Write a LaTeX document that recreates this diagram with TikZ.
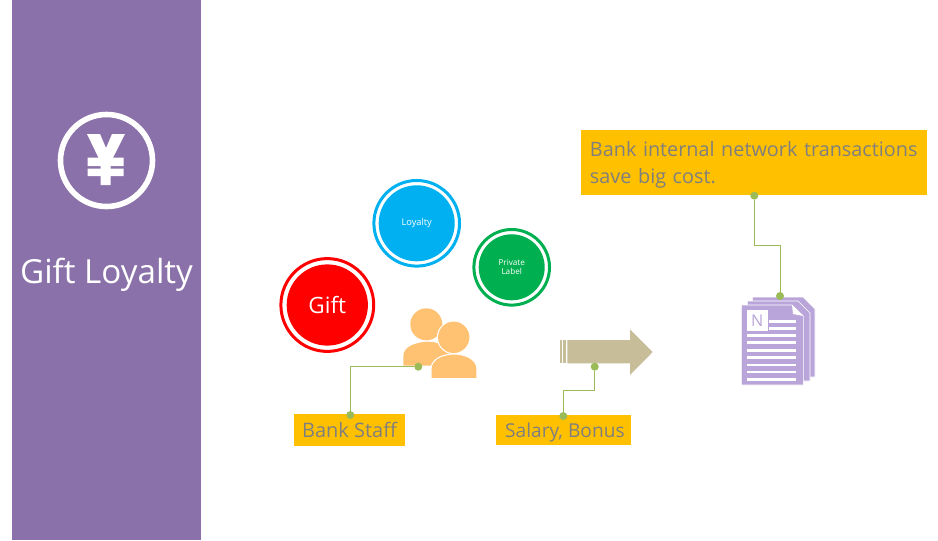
\documentclass[tikz,border=0pt]{standalone}
\usepackage{fontspec}
\setmainfont{Open Sans}
\usetikzlibrary{positioning}
\definecolor{panelpurple}{HTML}{8B71A9}
\definecolor{boxorange}{HTML}{FFC000}
\definecolor{labelgray}{HTML}{7F7F7F}
\definecolor{leafgreen}{HTML}{9BBB59}
\definecolor{skyblue}{HTML}{00B0F0}
\definecolor{darkgreen}{HTML}{00B050}
\definecolor{staffpeach}{HTML}{FFC172}
\definecolor{arrowtan}{HTML}{C7BD98}
\definecolor{docpurple}{HTML}{B9A5D9}
\tikzstyle{disc} = [circle, inner sep=0pt, text=white, align=center]
\tikzstyle{ring} = [circle, inner sep=0pt, fill=none, line width=0.075cm]
\tikzstyle{tagbox} = [rectangle, fill=boxorange, text=labelgray, inner sep=0pt]
\tikzstyle{dot} = [circle, fill=leafgreen, inner sep=0pt, minimum size=0.2cm]
\tikzstyle{leader} = [leafgreen, line width=0.025cm]
\tikzstyle{person} = [fill=staffpeach, draw=white, line width=0.025cm]
\tikzstyle{page} = [fill=docpurple, draw=white, line width=0.015cm]

\begin{document}
\begin{tikzpicture}[x=0.025cm, y=-0.025cm]
	\useasboundingbox (0,0) rectangle (938,540);

	% set up side panel
	\fill [panelpurple] (12,0) rectangle (201,540);
	\node (iconring) [ring, draw=white, line width=0.14cm, minimum size=2.3cm] at (106.5,160.5) {};
	\fill [white] (87,134) -- (100,134) -- (106,148) -- (112,134) -- (125,134) -- (113,157.7)
		-- (123.5,157.7) -- (123.5,166) -- (110.7,166) -- (110.7,168.7) -- (123.5,168.7) -- (123.5,176)
		-- (110.7,176) -- (110.7,185) -- (100.7,185) -- (100.7,176) -- (87.7,176) -- (87.7,168.7)
		-- (100.7,168.7) -- (100.7,166) -- (87.7,166) -- (87.7,157.7) -- (98.5,157.7) -- cycle;
	\node (title) [text=white, font=\fontsize{23.6}{28}\selectfont] at (106.5,274.5) {Gift Loyalty};

	% set up circles
	\node (gift) [disc, fill=red, minimum size=2.03cm, font=\fontsize{16}{19}\selectfont] at (327.3,305) {Gift};
	\node (giftring) [ring, draw=red, minimum size=2.32cm] at (327.3,305) {};
	\node (loyalty) [disc, fill=skyblue, minimum size=1.9cm, font=\fontsize{6.6}{8}\selectfont] at (416.7,223.3) {Loyalty};
	\node (loyaltyring) [ring, draw=skyblue, minimum size=2.14cm] at (416.7,223.3) {};
	\node (private) [disc, fill=darkgreen, minimum size=1.65cm, font=\fontsize{5.8}{6.6}\selectfont] at (511.7,267.3) {Private\\Label};
	\node (privatering) [ring, draw=darkgreen, minimum size=1.89cm] at (511.7,267.3) {};

	% set up staff icon
	\fill [staffpeach] (426.3,324.3) circle (16);
	\fill [staffpeach] (403.3,365.7) -- (403.3,356) .. controls (403.3,345) and (420,341.7) .. (428,341.7)
		.. controls (436,341.7) and (450,345) .. (450,356) -- (450,365.7) -- cycle;
	\filldraw [person] (453.7,337.3) circle (16.3);
	\filldraw [person] (431,378.6) -- (431,369) .. controls (431,358) and (445,354) .. (454,354)
		.. controls (463,354) and (476.9,358) .. (476.9,369) -- (476.9,378.6) -- cycle;

	% set up arrow
	\fill [arrowtan] (560,340) rectangle (561.7,363.3);
	\fill [arrowtan] (563.3,340) rectangle (566,363.3);
	\fill [arrowtan] (567.3,340) -- (630,340) -- (630,329.3) -- (652.7,352) -- (630,375) -- (630,363.3) -- (567.3,363.3) -- cycle;

	% set up document stack
	\filldraw [page] (752.3,297) -- (803,297) -- (815,309) -- (815,377) -- (752.3,377) -- cycle;
	\filldraw [page] (747.3,301) -- (798,301) -- (810,313) -- (810,381) -- (747.3,381) -- cycle;
	\filldraw [page] (741.3,305) -- (792,305) -- (803.3,316) -- (803.3,385) -- (741.3,385) -- cycle;
	\fill [white] (792,305) -- (803.3,316) -- (793,314) -- cycle;
	\node (notebadge) [rectangle, fill=white, text=docpurple, inner sep=0pt, minimum size=0.525cm, font=\fontsize{11.5}{13}\selectfont] at (757.2,320.5) {N};
	\foreach \y in {320,327}
		\fill [white] (769,\y) rectangle (795.7,\y+2.5);
	\foreach \y in {334,341.3,349,356.3,363.5,370.5,378}
		\fill [white] (746.7,\y) rectangle (795.7,\y+2.5);

	% set up labels
	\node (stafftag) [tagbox, minimum width=2.775cm, minimum height=0.8cm, text height=10.5pt, text depth=0pt, font=\fontsize{14.2}{19}\selectfont] at (349.5,430) {Bank Staff};
	\node (salarytag) [tagbox, minimum width=3.375cm, minimum height=0.75cm, text height=10.5pt, text depth=0pt, font=\fontsize{13.6}{19}\selectfont] at (563.5,430) {\hspace{2pt}Salary, Bonus};
	\node (costtag) [tagbox, minimum width=8.65cm, minimum height=1.625cm, align=left, text width=8.2cm, text height=14pt, font=\fontsize{14.1}{19.8}\selectfont] at (754,162.5) {Bank internal network transactions\\save big cost.};

	% set up leaders between labels and pictures
	\node (staffdot) [dot] at (418.3,366.7) {};
	\node (staffend) [dot] at (350.3,415) {};
	\node (salarydot) [dot] at (594.7,366.7) {};
	\node (salaryend) [dot] at (563.3,416) {};
	\node (docdot) [dot] at (780,296) {};
	\node (costend) [dot] at (754.3,195.7) {};
	\coordinate (salarybend) at (580,390.7);
	\coordinate (costbend) at (767,245.7);
	\draw [leader] (staffdot) -| (staffend);
	\draw [leader] (salarydot) |- (salarybend) -| (salaryend);
	\draw [leader] (costend) |- (costbend) -| (docdot);
\end{tikzpicture}
\end{document}
